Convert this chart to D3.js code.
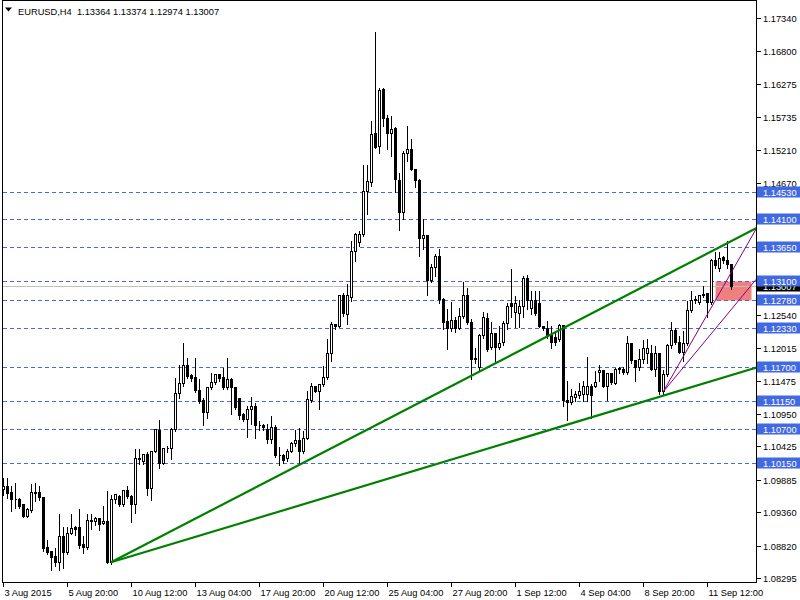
<!DOCTYPE html>
<html><head><meta charset="utf-8">
<script src="https://cdn.jsdelivr.net/npm/d3@7"></script>
<style>
body{margin:0;background:#fff}
svg{display:block}
text{font-family:"Liberation Sans",Arial,sans-serif;font-size:9.3px}
</style>
</head><body>
<svg id="chart" width="800" height="600"></svg>
<script>
const headerText = "EURUSD,H4  1.13364 1.13374 1.12974 1.13007";
// OHLC of the H4 bars (index 0 = first bar on screen)
const opens  = [1.0974,1.0978,1.0968,1.0958,1.0958,1.0949,1.0930,1.0939,1.0968,1.0968,1.0960,1.0879,1.0873,1.0865,1.0855,1.0898,1.0871,1.0903,1.0912,1.0912,1.0885,1.0880,1.0923,1.0922,1.0926,1.0918,1.0922,1.0856,1.0957,1.0962,1.0949,1.0971,1.0962,1.0949,1.1023,1.1018,1.1030,1.0975,1.1035,1.1069,1.1016,1.1040,1.1039,1.1070,1.1128,1.1144,1.1174,1.1158,1.1155,1.1134,1.1117,1.1097,1.1138,1.1147,1.1159,1.1155,1.1138,1.1151,1.1138,1.1120,1.1095,1.1087,1.1102,1.1107,1.1077,1.1077,1.1071,1.1054,1.1073,1.1029,1.1029,1.1023,1.1035,1.1047,1.1053,1.1034,1.1056,1.1117,1.1140,1.1132,1.1143,1.1154,1.1193,1.1240,1.1237,1.1287,1.1256,1.1284,1.1358,1.1373,1.1385,1.1455,1.1470,1.1548,1.1528,1.1619,1.1572,1.1549,1.1556,1.1472,1.1421,1.1516,1.1522,1.1491,1.1472,1.1378,1.1384,1.1311,1.1332,1.1350,1.1281,1.1244,1.1234,1.1246,1.1234,1.1253,1.1287,1.1243,1.1184,1.1170,1.1222,1.1249,1.1202,1.1225,1.1202,1.1210,1.1241,1.1273,1.1260,1.1258,1.1269,1.1314,1.1265,1.1278,1.1273,1.1237,1.1233,1.1222,1.1219,1.1215,1.1238,1.1117,1.1114,1.1122,1.1125,1.1127,1.1127,1.1140,1.1140,1.1163,1.1166,1.1140,1.1161,1.1145,1.1167,1.1168,1.1163,1.1209,1.1182,1.1171,1.1183,1.1193,1.1193,1.1167,1.1193,1.1131,1.1159,1.1206,1.1230,1.1211,1.1195,1.1209,1.1262,1.1278,1.1276,1.1287,1.1290,1.1276,1.1343,1.1330,1.1348,1.1343,1.13364];
const highs  = [1.0993,1.0993,1.0980,1.0985,1.0961,1.0950,1.0945,1.0983,1.0985,1.0980,1.0961,1.0892,1.0875,1.0880,1.0935,1.0913,1.0913,1.0934,1.0915,1.0942,1.0899,1.0934,1.0934,1.0929,1.0928,1.0948,1.0972,1.0966,1.0966,1.0966,1.0972,1.0980,1.0966,1.1039,1.1039,1.1031,1.1034,1.1036,1.1071,1.1086,1.1042,1.1044,1.1074,1.1155,1.1176,1.1211,1.1187,1.1160,1.1187,1.1152,1.1122,1.1139,1.1163,1.1160,1.1160,1.1171,1.1186,1.1155,1.1139,1.1121,1.1097,1.1109,1.1124,1.1114,1.1085,1.1080,1.1080,1.1093,1.1078,1.1043,1.1031,1.1039,1.1051,1.1071,1.1074,1.1069,1.1133,1.1147,1.1141,1.1144,1.1174,1.1218,1.1244,1.1242,1.1289,1.1292,1.1306,1.1376,1.1389,1.1392,1.1499,1.1499,1.1570,1.1713,1.1622,1.1622,1.1579,1.1577,1.1559,1.1486,1.1521,1.1561,1.1540,1.1492,1.1475,1.1411,1.1386,1.1338,1.1355,1.1363,1.1283,1.1265,1.1277,1.1252,1.1268,1.1309,1.1300,1.1249,1.1203,1.1225,1.1261,1.1259,1.1244,1.1227,1.1238,1.1246,1.1276,1.1330,1.1287,1.1280,1.1319,1.1320,1.1295,1.1295,1.1295,1.1238,1.1246,1.1238,1.1230,1.1241,1.1240,1.1149,1.1136,1.1133,1.1147,1.1149,1.1188,1.1145,1.1166,1.1176,1.1168,1.1163,1.1163,1.1171,1.1172,1.1172,1.1222,1.1211,1.1184,1.1201,1.1215,1.1217,1.1208,1.1206,1.1195,1.1168,1.1209,1.1244,1.1235,1.1222,1.1230,1.1279,1.1295,1.1287,1.1289,1.1303,1.1292,1.1346,1.1357,1.1357,1.1351,1.1376,1.13374];
const lows   = [1.0966,1.0961,1.0939,1.0945,1.0945,1.0929,1.0929,1.0938,1.0956,1.0958,1.0875,1.0870,1.0845,1.0851,1.0845,1.0847,1.0870,1.0902,1.0901,1.0880,1.0871,1.0878,1.0910,1.0917,1.0908,1.0918,1.0855,1.0854,1.0953,1.0948,1.0948,1.0961,1.0922,1.0937,1.1015,1.1015,1.0966,1.0958,1.1034,1.1009,1.1015,1.1034,1.1023,1.1068,1.1122,1.1141,1.1155,1.1149,1.1131,1.1114,1.1078,1.1089,1.1136,1.1145,1.1149,1.1136,1.1137,1.1096,1.1105,1.1088,1.1085,1.1059,1.1080,1.1057,1.1071,1.1071,1.1050,1.1050,1.1026,1.1013,1.1017,1.1020,1.1034,1.1045,1.1017,1.1033,1.1055,1.1116,1.1131,1.1105,1.1141,1.1152,1.1182,1.1234,1.1236,1.1254,1.1242,1.1279,1.1343,1.1367,1.1384,1.1419,1.1464,1.1525,1.1517,1.1561,1.1524,1.1512,1.1454,1.1394,1.1411,1.1505,1.1490,1.1462,1.1351,1.1363,1.1289,1.1309,1.1319,1.1276,1.1233,1.1201,1.1230,1.1229,1.1233,1.1251,1.1241,1.1153,1.1179,1.1168,1.1219,1.1198,1.1201,1.1179,1.1201,1.1208,1.1233,1.1252,1.1237,1.1237,1.1252,1.1265,1.1257,1.1256,1.1236,1.1231,1.1219,1.1203,1.1208,1.1214,1.1109,1.1086,1.1113,1.1117,1.1122,1.1117,1.1117,1.1090,1.1139,1.1149,1.1139,1.1118,1.1145,1.1144,1.1163,1.1161,1.1160,1.1179,1.1149,1.1168,1.1179,1.1179,1.1167,1.1158,1.1129,1.1129,1.1158,1.1203,1.1209,1.1194,1.1182,1.1208,1.1261,1.1276,1.1273,1.1285,1.1253,1.1274,1.1332,1.1327,1.1340,1.1332,1.12974];
const closes = [1.0979,1.0967,1.0958,1.0957,1.0946,1.0930,1.0941,1.0968,1.0967,1.0960,1.0878,1.0871,1.0864,1.0855,1.0898,1.0871,1.0903,1.0910,1.0909,1.0883,1.0880,1.0923,1.0922,1.0926,1.0917,1.0922,1.0856,1.0957,1.0965,1.0949,1.0971,1.0962,1.0949,1.1023,1.1022,1.1030,1.0975,1.1035,1.1070,1.1016,1.1039,1.1039,1.1071,1.1128,1.1144,1.1174,1.1156,1.1152,1.1133,1.1116,1.1097,1.1138,1.1147,1.1159,1.1152,1.1138,1.1151,1.1138,1.1106,1.1093,1.1087,1.1102,1.1107,1.1077,1.1076,1.1074,1.1054,1.1073,1.1029,1.1028,1.1020,1.1035,1.1048,1.1053,1.1034,1.1056,1.1118,1.1140,1.1132,1.1143,1.1154,1.1193,1.1240,1.1236,1.1287,1.1257,1.1286,1.1358,1.1385,1.1385,1.1455,1.1471,1.1546,1.1526,1.1618,1.1572,1.1549,1.1555,1.1474,1.1421,1.1516,1.1522,1.1491,1.1472,1.1378,1.1384,1.1311,1.1332,1.1350,1.1281,1.1243,1.1234,1.1246,1.1234,1.1253,1.1287,1.1243,1.1183,1.1185,1.1222,1.1251,1.1199,1.1225,1.1202,1.1209,1.1241,1.1269,1.1269,1.1274,1.1269,1.1314,1.1279,1.1278,1.1257,1.1237,1.1233,1.1222,1.1211,1.1210,1.1238,1.1117,1.1114,1.1124,1.1127,1.1131,1.1140,1.1140,1.1125,1.1147,1.1166,1.1140,1.1160,1.1147,1.1168,1.1169,1.1163,1.1209,1.1182,1.1171,1.1184,1.1201,1.1201,1.1168,1.1193,1.1131,1.1159,1.1206,1.1230,1.1211,1.1195,1.1209,1.1262,1.1279,1.1280,1.1287,1.1289,1.1276,1.1343,1.1335,1.1346,1.1343,1.1337,1.13007];

const timeTickIndex  = [0,16,32,48,64,80,96,112,128,144,160,176];
const timeTickLabels = ["3 Aug 2015","5 Aug 20:00","10 Aug 12:00","13 Aug 04:00","17 Aug 20:00","20 Aug 12:00","25 Aug 04:00","27 Aug 20:00","1 Sep 12:00","4 Sep 04:00","8 Sep 20:00","11 Sep 12:00"];
const priceTicks = [1.17340,1.16800,1.16275,1.15735,1.15210,1.14670,1.14130,1.13605,1.13065,1.12540,1.12015,1.11475,1.10950,1.10425,1.09885,1.09360,1.08820,1.08295];
const levelPrices = [1.14530,1.14100,1.13650,1.13100,1.12780,1.12330,1.11700,1.11150,1.10700,1.10150];
const bidPrice = 1.13007;
const priceBottom = 1.08232, priceTop = 1.17599;
const barCountVisible = 188;
// trend rays: [startBar, startPrice], [throughBar, throughPrice]
const greenRays  = [[[27,1.0855],[140,1.1233]], [[27,1.0855],[165,1.1124]]];
const purpleRays = [[[165,1.1130],[181,1.1311]], [[165,1.1130],[181,1.1255]]];
const zoneRect = {fromBar:178, toBar:187, high:1.13100, low:1.12780};

const svg = d3.select("#chart");
const L = 2.5, R = 756.5, T = 0.5, B = 582.5;
const x = d3.scaleLinear().domain([0, barCountVisible]).range([3, 755]);
const y = d3.scaleLinear().domain([priceBottom, priceTop]).range([582, 2]);
const sx = i => Math.round(x(i)) + 0.5;
const sy = v => Math.round(y(v)) + 0.5;

svg.append("defs").append("clipPath").attr("id","plot")
  .append("rect").attr("x",L).attr("y",T).attr("width",R-L).attr("height",B-T);
const plot = svg.append("g").attr("clip-path","url(#plot)");

// background rectangle object
plot.append("rect")
  .attr("x", sx(zoneRect.fromBar)).attr("y", sy(zoneRect.high))
  .attr("width", sx(zoneRect.toBar)-sx(zoneRect.fromBar))
  .attr("height", sy(zoneRect.low)-sy(zoneRect.high))
  .attr("fill","#F08080");

// horizontal levels
plot.selectAll("line.lvl").data(levelPrices).join("line")
  .attr("x1",L).attr("x2",R).attr("y1",sy).attr("y2",sy)
  .attr("stroke","#4169E1").attr("stroke-width",1).attr("stroke-dasharray","4,3")
  .attr("shape-rendering","crispEdges");

// bid line
plot.append("line").attr("x1",L).attr("x2",R).attr("y1",sy(bidPrice)).attr("y2",sy(bidPrice))
  .attr("stroke","#C0C0C0").attr("shape-rendering","crispEdges");

// candles
const bars = d3.range(opens.length).map(i => ({i, o:opens[i], h:highs[i], l:lows[i], c:closes[i]}));
const cg = plot.append("g").attr("shape-rendering","crispEdges");
cg.selectAll("line.wick").data(bars).join("line")
  .attr("x1", d=>sx(d.i)).attr("x2", d=>sx(d.i))
  .attr("y1", d=>sy(d.h)).attr("y2", d=>sy(d.l)+1)
  .attr("stroke","#000");
cg.selectAll("path.body").data(bars).join("path")
  .attr("d", d => {
    const cx = sx(d.i);
    const t = sy(Math.max(d.o,d.c)), b = sy(Math.min(d.o,d.c));
    return `M${cx-1},${t}H${cx+1}V${b}H${cx-1}Z`;
  })
  .attr("fill", d => d.c >= d.o ? "#fff" : "#000")
  .attr("stroke","#000").attr("stroke-width",1);

// trend rays
function rayPath(seg){
  const [[i0,p0],[i1,p1]] = seg;
  const iEnd = x.invert(R + 2);
  const pEnd = p0 + (p1-p0)*(iEnd-i0)/(i1-i0);
  return d3.line()([[x(i0), y(p0)], [x(iEnd), y(pEnd)]]);
}
plot.selectAll("path.green").data(greenRays).join("path")
  .attr("d", rayPath).attr("fill","none").attr("stroke","#008000").attr("stroke-width",2.2);
plot.selectAll("path.purple").data(purpleRays).join("path")
  .attr("d", rayPath).attr("fill","none").attr("stroke","#800080").attr("stroke-width",1);

// frame
svg.append("rect").attr("x",L).attr("y",T).attr("width",R-L).attr("height",B-T)
  .attr("fill","none").attr("stroke","#000").attr("shape-rendering","crispEdges");

// price axis (tick labels hidden by the object labels are not drawn)
const labelled = levelPrices.concat([bidPrice]);
const visibleTicks = priceTicks.filter(t => labelled.every(v => Math.abs(y(v) - y(t)) > 8));
const ax = svg.append("g").attr("shape-rendering","crispEdges");
ax.selectAll("line.pt").data(priceTicks).join("line")
  .attr("x1",R).attr("x2",R+4).attr("y1",sy).attr("y2",sy).attr("stroke","#000");
svg.selectAll("text.pt").data(visibleTicks).join("text")
  .attr("x",763).attr("y",d=>sy(d)+3.5).attr("fill","#000").text(d=>d.toFixed(5));

// bid label
svg.append("rect").attr("x",757).attr("y",sy(bidPrice)-6).attr("width",43).attr("height",11).attr("fill","#000");
svg.append("text").attr("x",763).attr("y",sy(bidPrice)+3.5).attr("fill","#fff").text(bidPrice.toFixed(5));

// level labels
const lg = svg.selectAll("g.lv").data(levelPrices).join("g");
lg.append("rect").attr("x",757).attr("y",d=>sy(d)-6).attr("width",43).attr("height",11).attr("fill","#4169E1");
lg.append("text").attr("x",763).attr("y",d=>sy(d)+3.5).attr("fill","#fff").text(d=>d.toFixed(5));

// time axis
svg.selectAll("line.tt").data(timeTickIndex).join("line")
  .attr("x1",sx).attr("x2",sx).attr("y1",B).attr("y2",B+4).attr("stroke","#000")
  .attr("shape-rendering","crispEdges");
svg.selectAll("text.tt").data(timeTickIndex).join("text")
  .attr("x",d=>sx(d)+1).attr("y",596).attr("fill","#000")
  .text((d,k)=>timeTickLabels[k]);

// header
svg.append("path").attr("d","M5,7.5L12,7.5L8.5,11.5Z").attr("fill","#000");
svg.append("text").attr("x",18).attr("y",15).attr("fill","#000").attr("xml:space","preserve")
  .style("white-space","pre").text(headerText);
</script>
</body></html>
